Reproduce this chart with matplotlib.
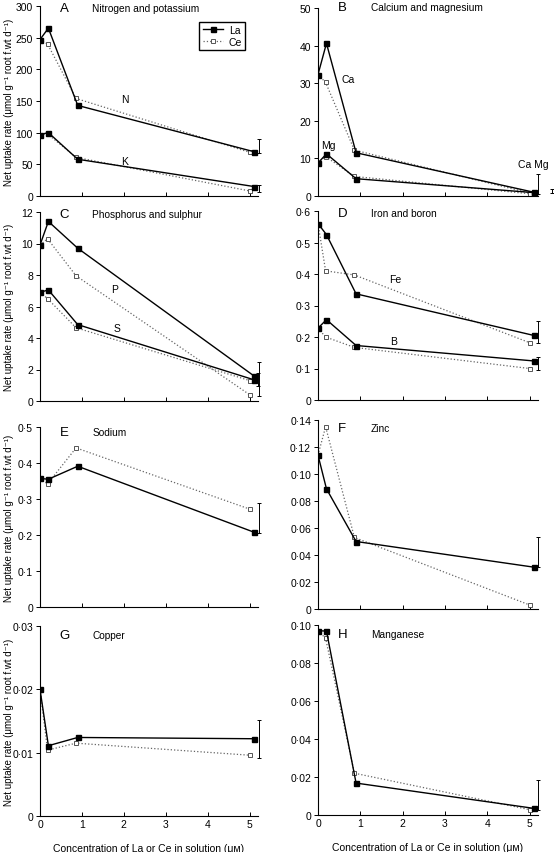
import matplotlib
matplotlib.use("Agg")
import matplotlib.pyplot as plt
from matplotlib.ticker import FuncFormatter

plt.rcParams['font.family'] = ['Liberation Sans', 'DejaVu Sans']
plt.rcParams['font.size'] = 7

# concentrations (La points sit slightly right of Ce points)
x_la = [0, 0.2, 0.9, 5.1]
x_ce = [0, 0.18, 0.86, 5.0]

# A - nitrogen and potassium
n_la = [247, 265, 143, 70]
n_ce = [247, 240, 154, 69]
k_la = [97, 100, 58, 15]
k_ce = [97, 98, 61, 8]
# B - calcium and magnesium
ca_la = [32.3, 40.6, 11.5, 1.0]
ca_ce = [32.3, 30.2, 12.2, 0.8]
mg_la = [8.8, 11.2, 4.6, 0.9]
mg_ce = [8.8, 10.5, 5.2, 0.6]
# C - phosphorus and sulphur
p_la = [9.9, 11.4, 9.7, 1.6]
p_ce = [9.9, 10.3, 7.95, 0.4]
s_la = [6.9, 7.05, 4.85, 1.35]
s_ce = [6.9, 6.5, 4.65, 1.3]
# D - iron and boron
fe_la = [0.56, 0.525, 0.337, 0.205]
fe_ce = [0.56, 0.41, 0.397, 0.182]
b_la = [0.228, 0.255, 0.173, 0.124]
b_ce = [0.228, 0.2, 0.167, 0.1]
# E - sodium
na_la = [0.357, 0.355, 0.391, 0.208]
na_ce = [0.357, 0.342, 0.442, 0.272]
# F - zinc
zn_la = [0.114, 0.089, 0.050, 0.031]
zn_ce = [0.114, 0.135, 0.053, 0.003]
# G - copper
cu_la = [0.020, 0.0111, 0.0124, 0.0122]
cu_ce = [0.020, 0.0104, 0.0115, 0.0096]
# H - manganese
mn_la = [0.097, 0.0968, 0.0168, 0.0035]
mn_ce = [0.097, 0.093, 0.022, 0.0028]

# error bars: (x, low, high)
err_a = [(5.22, 68, 90), (5.22, 6, 17)]
err_b = [(5.19, 0.4, 5.8), (5.52, 0.7, 1.8)]
err_c = [(5.22, 0.3, 2.45), (5.2, 0.95, 1.75)]
err_d = [(5.19, 0.18, 0.251), (5.19, 0.096, 0.137)]
err_e = [(5.22, 0.205, 0.288)]
err_f = [(5.19, 0.031, 0.0536)]
err_g = [(5.22, 0.0091, 0.0152)]
err_h = [(5.19, 0.0028, 0.0184)]

W, H = 554, 853
fig = plt.figure(figsize=(W / 100, H / 100), dpi=100)


def make_axes(left, top, bottom, width):
    return fig.add_axes([left / W, 1 - bottom / H, width / W, (bottom - top) / H])


def dot_fmt(dec):
    def f(v, pos):
        if abs(v) < 1e-12:
            return '0'
        return f"{v:.{dec}f}".replace('.', '\u00b7')
    return FuncFormatter(f)


def panel(ax, series, ymax, ystep, dec, letter, title, errs, letter_dy=0.0, xlabels=False):
    for la, ce in series:
        ax.plot(x_ce, ce, ls=':', color='#666666', lw=0.9, marker='s', ms=3.0,
                mfc='white', mec='#555555', mew=0.7, label='Ce', zorder=2)
        ax.plot(x_la, la, ls='-', color='black', lw=1.0, marker='s', ms=3.6,
                mfc='black', mec='black', label='La', zorder=3)
    for x, lo, hi in errs:
        c = ax.errorbar([x], [(lo + hi) / 2], yerr=[(hi - lo) / 2], fmt='none',
                        ecolor='black', elinewidth=0.7, capsize=1.3, capthick=0.7)
        for a in c.get_children():
            a.set_clip_on(False)
    ax.set_xlim(0, 5.2)
    ax.set_ylim(0, ymax)
    n = int(round(ymax / ystep))
    ax.set_yticks([i * ystep for i in range(n + 1)])
    ax.yaxis.set_major_formatter(dot_fmt(dec))
    ax.set_xticks([0, 1, 2, 3, 4, 5])
    if not xlabels:
        ax.set_xticklabels([])
    else:
        ax.set_xlabel('Concentration of La or Ce in solution (\u03bc\u1d0d)', fontsize=7.5, labelpad=10)
    ax.spines['top'].set_visible(False)
    ax.spines['right'].set_visible(False)
    ax.tick_params(direction='in', length=3, width=0.7, labelsize=7.5, pad=2)
    ax.tick_params(axis='y', direction='out')
    for s in ('left', 'bottom'):
        ax.spines[s].set_linewidth(0.8)
    ax.text(0.09, 0.99 - letter_dy, letter, transform=ax.transAxes, fontsize=9.5,
            ha='left', va='center')
    ax.text(0.24, 0.99 - letter_dy, title, transform=ax.transAxes, fontsize=7.3,
            ha='left', va='center')


axA = make_axes(40, 7, 197, 218)
panel(axA, [(n_la, n_ce), (k_la, k_ce)], 300, 50, 0, 'A', 'Nitrogen and potassium', err_a)
axA.text(2.02, 153, 'N', ha='center', va='center', fontsize=7.5)
axA.text(2.02, 56, 'K', ha='center', va='center', fontsize=7.5)
h, l = axA.get_legend_handles_labels()
axA.legend([h[1], h[0]], ['La', 'Ce'], loc='upper right', bbox_to_anchor=(0.965, 0.945),
           fontsize=7.5, frameon=True, fancybox=False, edgecolor='black', framealpha=1,
           handlelength=2.0, borderpad=0.3, labelspacing=0.2, handletextpad=0.5)

axB = make_axes(318, 9, 197, 220)
panel(axB, [(ca_la, ca_ce), (mg_la, mg_ce)], 50, 10, 0, 'B', 'Calcium and magnesium', err_b,
      letter_dy=-0.015)
axB.text(0.55, 31, 'Ca', ha='left', va='center', fontsize=7.5)
axB.text(0.07, 13.6, 'Mg', ha='left', va='center', fontsize=7.5)
axB.text(4.72, 8.4, 'Ca Mg', ha='left', va='center', fontsize=7.5)

axC = make_axes(40, 213, 402, 218)
panel(axC, [(p_la, p_ce), (s_la, s_ce)], 12, 2, 0, 'C', 'Phosphorus and sulphur', err_c)
axC.text(1.79, 7.1, 'P', ha='center', va='center', fontsize=7.5)
axC.text(1.83, 4.65, 'S', ha='center', va='center', fontsize=7.5)

axD = make_axes(318, 212, 401, 220)
panel(axD, [(fe_la, fe_ce), (b_la, b_ce)], 0.6, 0.1, 1, 'D', 'Iron and boron', err_d,
      letter_dy=0.0)
axD.text(1.82, 0.383, 'Fe', ha='center', va='center', fontsize=7.5)
axD.text(1.78, 0.188, 'B', ha='center', va='center', fontsize=7.5)

axE = make_axes(40, 428, 608, 218)
panel(axE, [(na_la, na_ce)], 0.5, 0.1, 1, 'E', 'Sodium', err_e, letter_dy=0.02)

axF = make_axes(318, 421, 610, 220)
panel(axF, [(zn_la, zn_ce)], 0.14, 0.02, 2, 'F', 'Zinc', err_f, letter_dy=0.03)

axG = make_axes(40, 627, 817, 218)
panel(axG, [(cu_la, cu_ce)], 0.03, 0.01, 2, 'G', 'Copper', err_g, letter_dy=0.04, xlabels=True)

axH = make_axes(318, 626, 816, 220)
panel(axH, [(mn_la, mn_ce)], 0.10, 0.02, 2, 'H', 'Manganese', err_h, letter_dy=0.04, xlabels=True)

# shared y label, one per row, centred on each left-hand panel
ylab = 'Net uptake rate (\u03bcmol g\u207b\u00b9 root f.wt d\u207b\u00b9)'
for ax in (axA, axC, axE, axG):
    pos = ax.get_position()
    fig.text(9 / W, (pos.y0 + pos.y1) / 2, ylab, rotation=90, fontsize=7,
             ha='center', va='center')

fig.savefig('out.png', dpi=100)
